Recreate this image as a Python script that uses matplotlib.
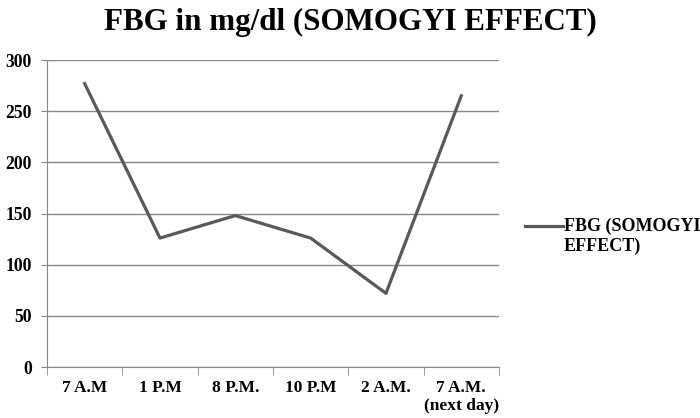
import numpy as np
import matplotlib.pyplot as plt
from matplotlib.legend_handler import HandlerLine2D

times = ["7 A.M", "1 P.M", "8 P.M.", "10 P.M", "2 A.M.", "7 A.M.\n(next day)"]
fbg = [277, 126, 148, 126, 72, 265]
yticks = [0, 50, 100, 150, 200, 250, 300]

plt.rcParams['font.family'] = 'Liberation Serif'
plt.rcParams['font.weight'] = 'bold'


# legend line sits next to the first text line, not the middle
class TopLine(HandlerLine2D):
    def create_artists(self, legend, orig_handle, xdescent, ydescent,
                       width, height, fontsize, trans):
        arts = super().create_artists(legend, orig_handle, xdescent, ydescent,
                                      width, height, fontsize, trans)
        for a in arts:
            a.set_ydata(np.asarray(a.get_ydata()) + 0.6 * fontsize)
        return arts


fig = plt.figure(figsize=(7, 4.18), dpi=100)
ax = fig.add_axes([0.0671, 0.122, 0.6457, 0.7344])

x = np.arange(len(times))
line, = ax.plot(x, fbg, color='#595959', linewidth=2.3, label='FBG (SOMOGYI\nEFFECT)')

ax.set_xlim(-0.5, len(times) - 0.5)
ax.set_ylim(0, 300)
ax.set_yticks(yticks)
ax.set_yticklabels([str(v) for v in yticks], fontsize=12.7, fontweight='bold')
ax.set_xticks(x)
ax.set_xticklabels(times, fontsize=12.5, fontweight='bold')
ax.tick_params(axis='x', which='major', length=0, pad=9)
ax.set_xticks(np.arange(-0.5, len(times)), minor=True)
ax.tick_params(axis='x', which='minor', length=5.5, color='#888888')
ax.tick_params(axis='y', length=4, color='#888888', pad=7)

ax.grid(axis='y', color='#888888', linewidth=1)
ax.set_axisbelow(True)
for s in ['top', 'right']:
    ax.spines[s].set_visible(False)
for s in ['left', 'bottom']:
    ax.spines[s].set_color('#888888')

fig.suptitle('FBG in mg/dl (SOMOGYI EFFECT)', fontsize=22.3, fontweight='bold', y=0.98)

ax.legend(handler_map={line: TopLine()}, loc='center left',
          bbox_to_anchor=(1.0575, 0.425), frameon=False, borderpad=0,
          borderaxespad=0, prop={'size': 13, 'weight': 'bold'},
          handlelength=2.1, handletextpad=0.05)

fig.savefig('out.png', dpi=100)
